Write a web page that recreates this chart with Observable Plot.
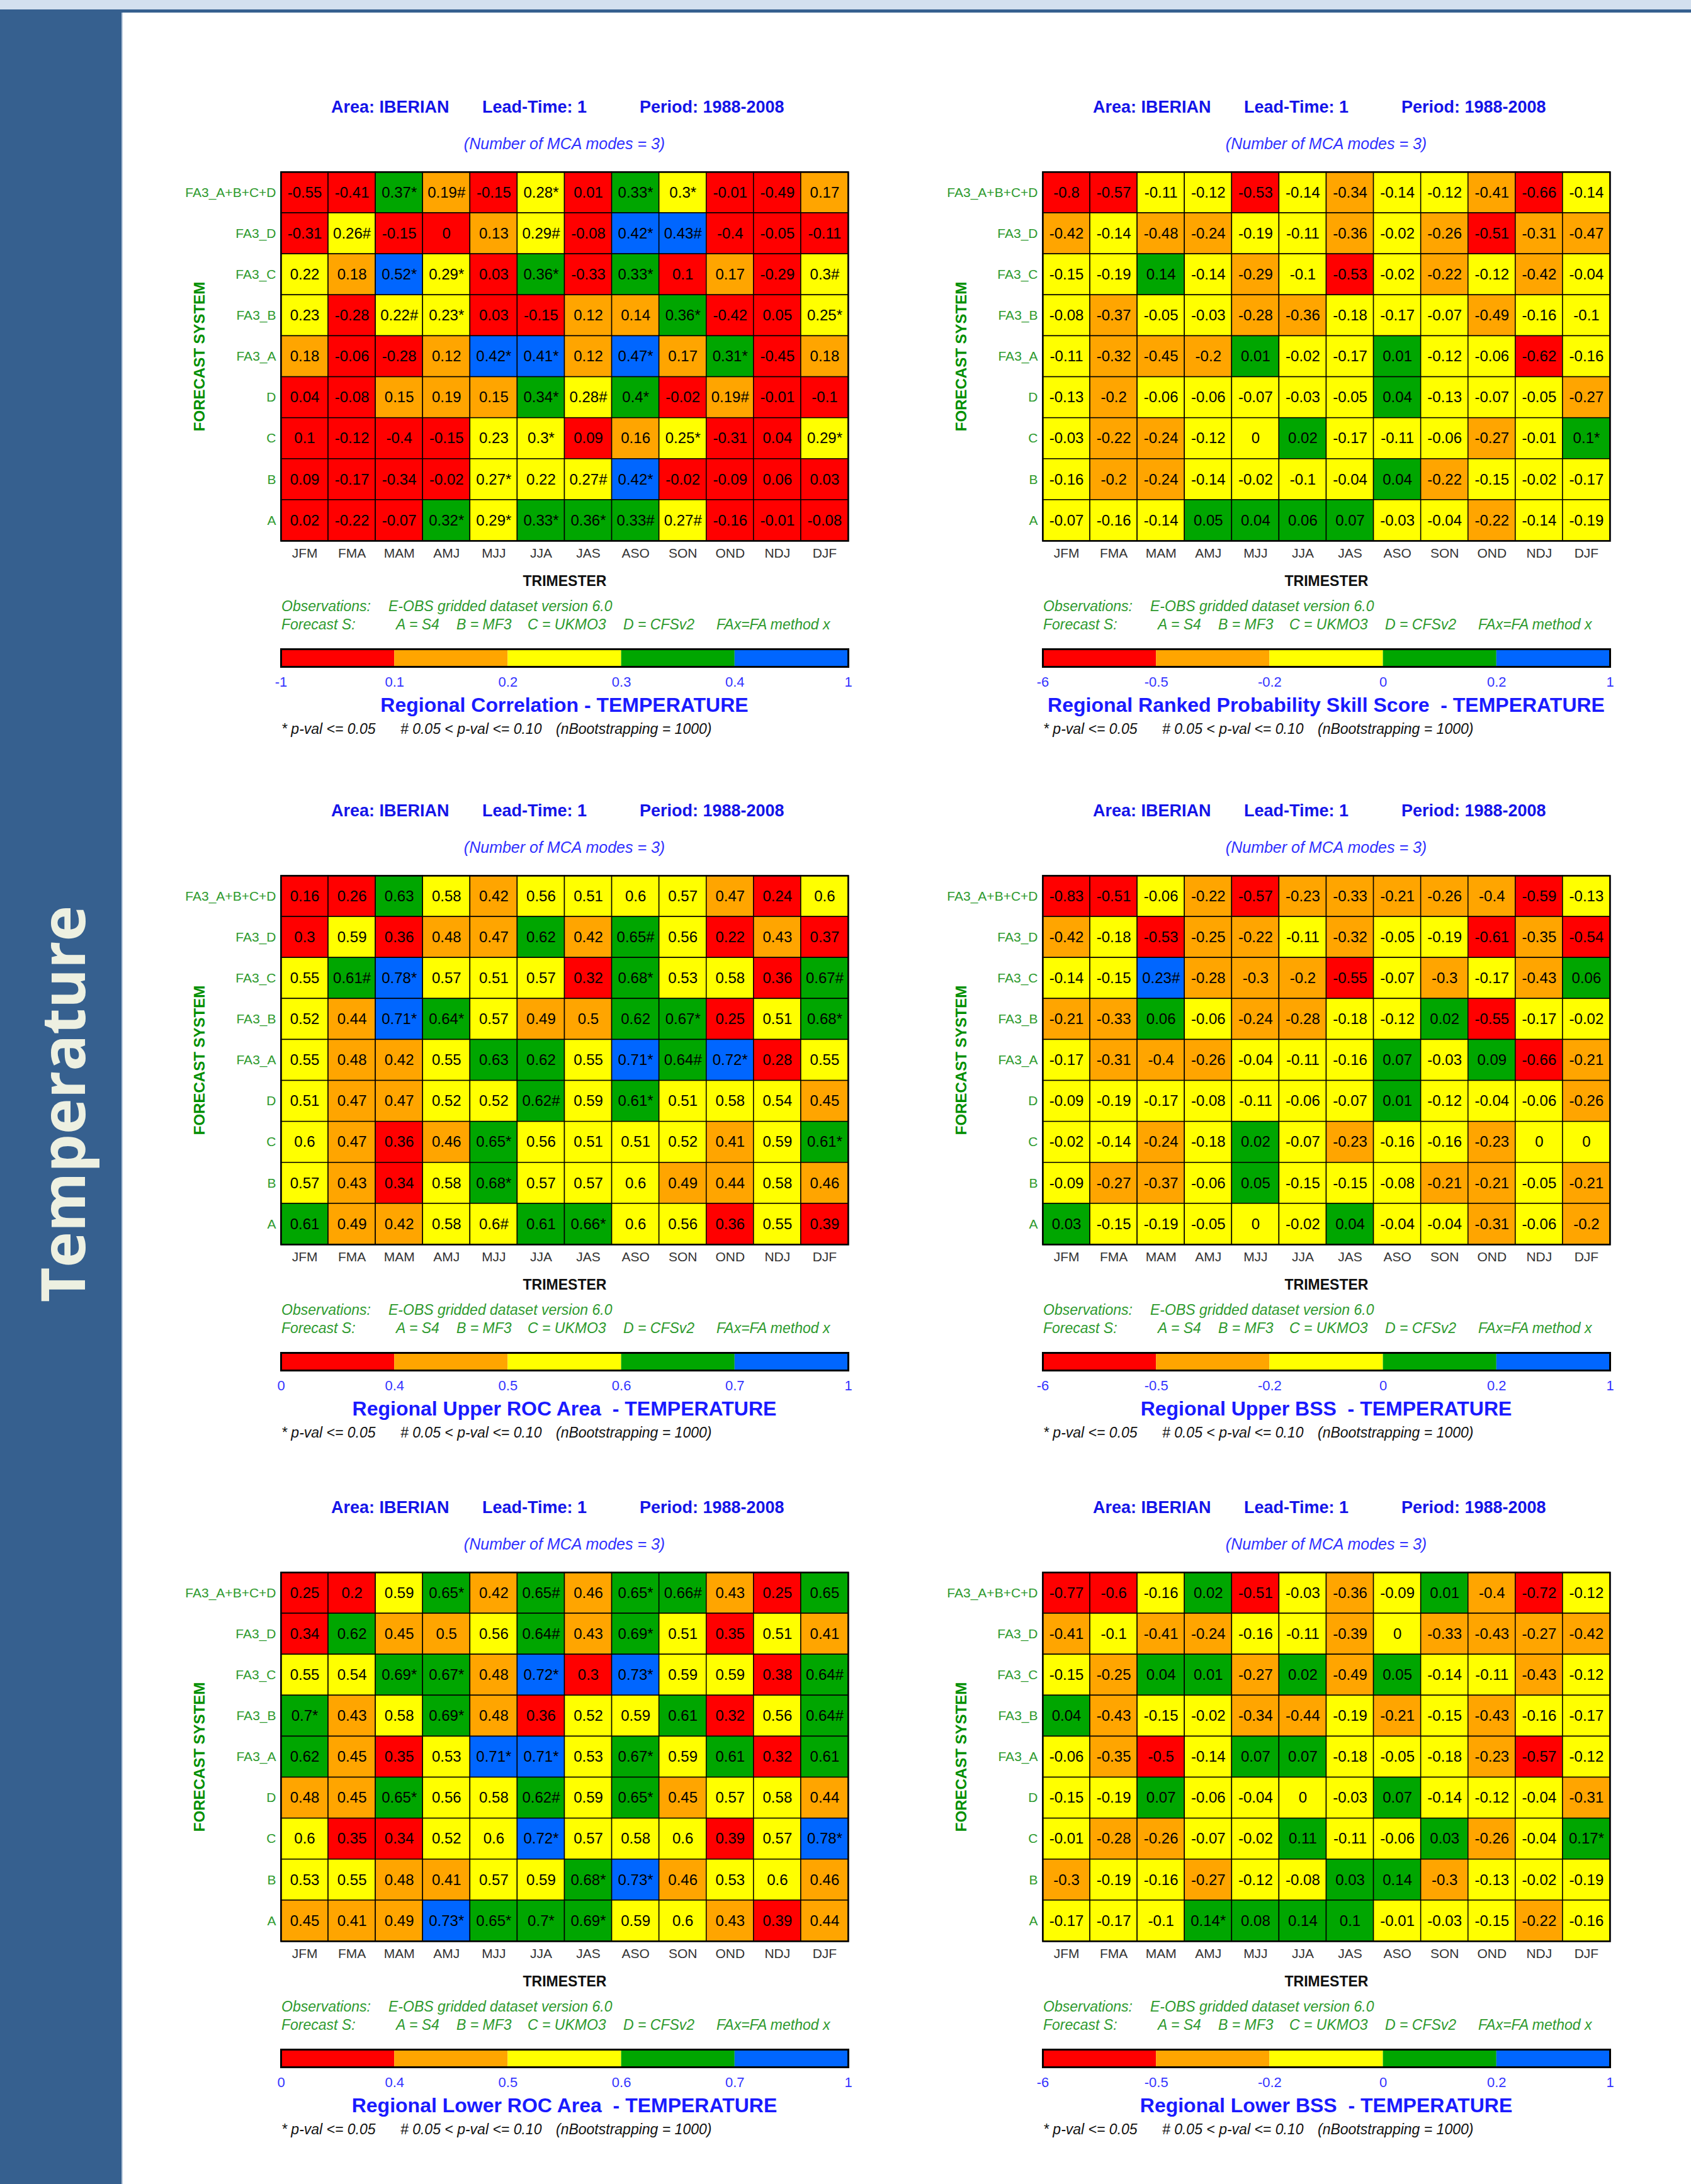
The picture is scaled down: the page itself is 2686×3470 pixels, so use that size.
<!DOCTYPE html>
<html><head><meta charset="utf-8">
<script src="https://cdn.jsdelivr.net/npm/d3@7"></script>
<script src="https://cdn.jsdelivr.net/npm/@observablehq/plot@0.6"></script>
<style>
html,body{margin:0;padding:0;background:#fff;}
#page{position:relative;width:2686px;height:3470px;overflow:hidden;background:#fff;font-family:"Liberation Sans",Arial,sans-serif;}
.abs{position:absolute;white-space:pre;}
</style></head><body><div id="page"></div>
<script>
// ---------- data ----------
const months = ["JFM","FMA","MAM","AMJ","MJJ","JJA","JAS","ASO","SON","OND","NDJ","DJF"];
const systems = ["FA3_A+B+C+D","FA3_D","FA3_C","FA3_B","FA3_A","D","C","B","A"];
const colors = ["#ff0000","#ffa500","#ffff00","#00a600","#0066ff"];
const corrBreaks = [0.1,0.2,0.3,0.4];
const corrTicks = ["-1","0.1","0.2","0.3","0.4","1"];
const skillBreaks = [-0.5,-0.2,0,0.2];
const skillTicks = ["-6","-0.5","-0.2","0","0.2","1"];
const rocBreaks = [0.4,0.5,0.6,0.7];
const rocTicks = ["0","0.4","0.5","0.6","0.7","1"];

const correlation = [
  ["-0.55","-0.41","0.37*","0.19#","-0.15","0.28*","0.01","0.33*","0.3*","-0.01","-0.49","0.17"],
  ["-0.31","0.26#","-0.15","0","0.13","0.29#","-0.08","0.42*","0.43#","-0.4","-0.05","-0.11"],
  ["0.22","0.18","0.52*","0.29*","0.03","0.36*","-0.33","0.33*","0.1","0.17","-0.29","0.3#"],
  ["0.23","-0.28","0.22#","0.23*","0.03","-0.15","0.12","0.14","0.36*","-0.42","0.05","0.25*"],
  ["0.18","-0.06","-0.28","0.12","0.42*","0.41*","0.12","0.47*","0.17","0.31*","-0.45","0.18"],
  ["0.04","-0.08","0.15","0.19","0.15","0.34*","0.28#","0.4*","-0.02","0.19#","-0.01","-0.1"],
  ["0.1","-0.12","-0.4","-0.15","0.23","0.3*","0.09","0.16","0.25*","-0.31","0.04","0.29*"],
  ["0.09","-0.17","-0.34","-0.02","0.27*","0.22","0.27#","0.42*","-0.02","-0.09","0.06","0.03"],
  ["0.02","-0.22","-0.07","0.32*","0.29*","0.33*","0.36*","0.33#","0.27#","-0.16","-0.01","-0.08"]
];
const rpss = [
  ["-0.8","-0.57","-0.11","-0.12","-0.53","-0.14","-0.34","-0.14","-0.12","-0.41","-0.66","-0.14"],
  ["-0.42","-0.14","-0.48","-0.24","-0.19","-0.11","-0.36","-0.02","-0.26","-0.51","-0.31","-0.47"],
  ["-0.15","-0.19","0.14","-0.14","-0.29","-0.1","-0.53","-0.02","-0.22","-0.12","-0.42","-0.04"],
  ["-0.08","-0.37","-0.05","-0.03","-0.28","-0.36","-0.18","-0.17","-0.07","-0.49","-0.16","-0.1"],
  ["-0.11","-0.32","-0.45","-0.2","0.01","-0.02","-0.17","0.01","-0.12","-0.06","-0.62","-0.16"],
  ["-0.13","-0.2","-0.06","-0.06","-0.07","-0.03","-0.05","0.04","-0.13","-0.07","-0.05","-0.27"],
  ["-0.03","-0.22","-0.24","-0.12","0","0.02","-0.17","-0.11","-0.06","-0.27","-0.01","0.1*"],
  ["-0.16","-0.2","-0.24","-0.14","-0.02","-0.1","-0.04","0.04","-0.22","-0.15","-0.02","-0.17"],
  ["-0.07","-0.16","-0.14","0.05","0.04","0.06","0.07","-0.03","-0.04","-0.22","-0.14","-0.19"]
];
const upperRoc = [
  ["0.16","0.26","0.63","0.58","0.42","0.56","0.51","0.6","0.57","0.47","0.24","0.6"],
  ["0.3","0.59","0.36","0.48","0.47","0.62","0.42","0.65#","0.56","0.22","0.43","0.37"],
  ["0.55","0.61#","0.78*","0.57","0.51","0.57","0.32","0.68*","0.53","0.58","0.36","0.67#"],
  ["0.52","0.44","0.71*","0.64*","0.57","0.49","0.5","0.62","0.67*","0.25","0.51","0.68*"],
  ["0.55","0.48","0.42","0.55","0.63","0.62","0.55","0.71*","0.64#","0.72*","0.28","0.55"],
  ["0.51","0.47","0.47","0.52","0.52","0.62#","0.59","0.61*","0.51","0.58","0.54","0.45"],
  ["0.6","0.47","0.36","0.46","0.65*","0.56","0.51","0.51","0.52","0.41","0.59","0.61*"],
  ["0.57","0.43","0.34","0.58","0.68*","0.57","0.57","0.6","0.49","0.44","0.58","0.46"],
  ["0.61","0.49","0.42","0.58","0.6#","0.61","0.66*","0.6","0.56","0.36","0.55","0.39"]
];
const upperBss = [
  ["-0.83","-0.51","-0.06","-0.22","-0.57","-0.23","-0.33","-0.21","-0.26","-0.4","-0.59","-0.13"],
  ["-0.42","-0.18","-0.53","-0.25","-0.22","-0.11","-0.32","-0.05","-0.19","-0.61","-0.35","-0.54"],
  ["-0.14","-0.15","0.23#","-0.28","-0.3","-0.2","-0.55","-0.07","-0.3","-0.17","-0.43","0.06"],
  ["-0.21","-0.33","0.06","-0.06","-0.24","-0.28","-0.18","-0.12","0.02","-0.55","-0.17","-0.02"],
  ["-0.17","-0.31","-0.4","-0.26","-0.04","-0.11","-0.16","0.07","-0.03","0.09","-0.66","-0.21"],
  ["-0.09","-0.19","-0.17","-0.08","-0.11","-0.06","-0.07","0.01","-0.12","-0.04","-0.06","-0.26"],
  ["-0.02","-0.14","-0.24","-0.18","0.02","-0.07","-0.23","-0.16","-0.16","-0.23","0","0"],
  ["-0.09","-0.27","-0.37","-0.06","0.05","-0.15","-0.15","-0.08","-0.21","-0.21","-0.05","-0.21"],
  ["0.03","-0.15","-0.19","-0.05","0","-0.02","0.04","-0.04","-0.04","-0.31","-0.06","-0.2"]
];
const lowerRoc = [
  ["0.25","0.2","0.59","0.65*","0.42","0.65#","0.46","0.65*","0.66#","0.43","0.25","0.65"],
  ["0.34","0.62","0.45","0.5","0.56","0.64#","0.43","0.69*","0.51","0.35","0.51","0.41"],
  ["0.55","0.54","0.69*","0.67*","0.48","0.72*","0.3","0.73*","0.59","0.59","0.38","0.64#"],
  ["0.7*","0.43","0.58","0.69*","0.48","0.36","0.52","0.59","0.61","0.32","0.56","0.64#"],
  ["0.62","0.45","0.35","0.53","0.71*","0.71*","0.53","0.67*","0.59","0.61","0.32","0.61"],
  ["0.48","0.45","0.65*","0.56","0.58","0.62#","0.59","0.65*","0.45","0.57","0.58","0.44"],
  ["0.6","0.35","0.34","0.52","0.6","0.72*","0.57","0.58","0.6","0.39","0.57","0.78*"],
  ["0.53","0.55","0.48","0.41","0.57","0.59","0.68*","0.73*","0.46","0.53","0.6","0.46"],
  ["0.45","0.41","0.49","0.73*","0.65*","0.7*","0.69*","0.59","0.6","0.43","0.39","0.44"]
];
const lowerBss = [
  ["-0.77","-0.6","-0.16","0.02","-0.51","-0.03","-0.36","-0.09","0.01","-0.4","-0.72","-0.12"],
  ["-0.41","-0.1","-0.41","-0.24","-0.16","-0.11","-0.39","0","-0.33","-0.43","-0.27","-0.42"],
  ["-0.15","-0.25","0.04","0.01","-0.27","0.02","-0.49","0.05","-0.14","-0.11","-0.43","-0.12"],
  ["0.04","-0.43","-0.15","-0.02","-0.34","-0.44","-0.19","-0.21","-0.15","-0.43","-0.16","-0.17"],
  ["-0.06","-0.35","-0.5","-0.14","0.07","0.07","-0.18","-0.05","-0.18","-0.23","-0.57","-0.12"],
  ["-0.15","-0.19","0.07","-0.06","-0.04","0","-0.03","0.07","-0.14","-0.12","-0.04","-0.31"],
  ["-0.01","-0.28","-0.26","-0.07","-0.02","0.11","-0.11","-0.06","0.03","-0.26","-0.04","0.17*"],
  ["-0.3","-0.19","-0.16","-0.27","-0.12","-0.08","0.03","0.14","-0.3","-0.13","-0.02","-0.19"],
  ["-0.17","-0.17","-0.1","0.14*","0.08","0.14","0.1","-0.01","-0.03","-0.15","-0.22","-0.16"]
];
const titles = [
  "Regional Correlation - TEMPERATURE",
  "Regional Ranked Probability Skill Score  - TEMPERATURE",
  "Regional Upper ROC Area  - TEMPERATURE",
  "Regional Upper BSS  - TEMPERATURE",
  "Regional Lower ROC Area  - TEMPERATURE",
  "Regional Lower BSS  - TEMPERATURE"
];

// ---------- layout ----------
const page = document.getElementById("page");
const FONT = '"Liberation Sans", Arial, sans-serif';
function box(x, y, w, h, bg) {
  const d = document.createElement("div");
  d.className = "abs";
  Object.assign(d.style, {left: x + "px", top: y + "px", width: w + "px", height: h + "px", background: bg});
  page.appendChild(d);
}
function txt(s, x, y, o) {
  const d = document.createElement("div");
  d.className = "abs";
  d.textContent = s;
  const fs = o.size;
  Object.assign(d.style, {
    top: (y - fs / 2) + "px", lineHeight: fs + "px", fontSize: fs + "px",
    fontWeight: o.bold ? "bold" : "normal", fontStyle: o.italic ? "italic" : "normal",
    color: o.color, fontFamily: FONT
  });
  if (o.center) { d.style.left = (x - 1000) + "px"; d.style.width = "2000px"; d.style.textAlign = "center"; }
  else d.style.left = x + "px";
  page.appendChild(d);
}
function place(el, x, y) {
  const w = document.createElement("div");
  w.className = "abs";
  w.style.left = x + "px"; w.style.top = y + "px";
  w.appendChild(el);
  page.appendChild(w);
}

// background page furniture
box(0, 0, 2686, 15, "#d3e0ef");
box(0, 15, 193, 3455, "#36608f");
box(193, 15, 2493, 5, "#36608f");
box(193, 20, 2, 3450, "#b9c9dc");
{
  const d = document.createElement("div");
  d.className = "abs";
  d.textContent = "Temperature";
  Object.assign(d.style, {left: (98 - 400) + "px", top: (1754 - 60) + "px", width: "800px", height: "120px",
    lineHeight: "120px", textAlign: "center", fontFamily: '"Open Sans", sans-serif', fontWeight: "bold",
    fontSize: "96px", color: "#edf0e1", transform: "rotate(-90deg)"});
  page.appendChild(d);
}

const GW = 901, GH = 586;
const ML = 200, MR = 12, MT = 10, MB = 92;
const BLUE = "#1414e8", GREEN = "#2e9a2e";

function panel(gx, gy, values, breaks, ticks, title) {
  const data = [];
  values.forEach((row, r) => row.forEach((lab, c) =>
    data.push({sys: systems[r], mon: months[c], label: lab, v: parseFloat(lab)})));

  const chart = Plot.plot({
    width: GW + ML + MR, height: GH + MT + MB,
    marginLeft: ML, marginRight: MR, marginTop: MT, marginBottom: MB,
    style: {fontFamily: FONT, background: "transparent", overflow: "visible"},
    x: {domain: months, padding: 0, round: false, axis: null, label: null},
    y: {domain: systems, padding: 0, round: false, axis: null, label: null},
    color: {type: "threshold", domain: breaks.map(b => -b).reverse(), range: colors.slice().reverse()},
    marks: [
      Plot.cell(data, {x: "mon", y: "sys", fill: d => -d.v, stroke: "#000", strokeWidth: 1.5, inset: 0}),
      Plot.text(data, {x: "mon", y: "sys", text: "label", fill: "#000", fontSize: 24}),
      Plot.frame({stroke: "#000", strokeWidth: 2.5}),
      Plot.axisX({tickSize: 0, tickPadding: 12, fontSize: 21, color: "#333", fill: "#333", label: null}),
      Plot.axisY({tickSize: 0, tickPadding: 8, fontSize: 21, color: GREEN, fill: GREEN, label: null}),
      Plot.text(["TRIMESTER"], {frameAnchor: "bottom", dy: 64, text: d => d, lineAnchor: "middle",
        fontWeight: "bold", fontSize: 23, fill: "#111"}),
      Plot.text(["FORECAST SYSTEM"], {frameAnchor: "left", dx: -129, text: d => d, rotate: -90,
        textAnchor: "middle", lineAnchor: "middle", fontWeight: "bold", fontSize: 24, fill: "#008f00"})
    ]
  });
  place(chart, gx - ML, gy - MT);

  // colour bar
  const bins = d3.range(5).map(i => ({i, j: i + 1}));
  const bar = Plot.plot({
    width: GW + 60, height: 28 + 4 + 44,
    marginLeft: 30, marginRight: 30, marginTop: 4, marginBottom: 44,
    style: {fontFamily: FONT, background: "transparent", overflow: "visible"},
    x: {domain: [0, 5], axis: null},
    color: {type: "ordinal", domain: d3.range(5), range: colors},
    marks: [
      Plot.barX(bins, {x1: "i", x2: "j", fill: "i"}),
      Plot.frame({stroke: "#000", strokeWidth: 3}),
      Plot.axisX(d3.range(6), {tickSize: 0, tickPadding: 16, tickFormat: i => ticks[i], fontSize: 22,
        color: "#3333ff", fill: "#3333ff", label: null})
    ]
  });
  place(bar, gx - 30, gy + 758 - 4);

  // header texts
  const hs = {size: 27, bold: true, color: BLUE};
  txt("Area: IBERIAN", gx + 80, gy - 103, hs);
  txt("Lead-Time: 1", gx + 320, gy - 103, hs);
  txt("Period: 1988-2008", gx + 570, gy - 103, hs);
  txt("(Number of MCA modes = 3)", gx + GW / 2, gy - 45, {size: 25, italic: true, color: "#3030ff", center: true});

  // source notes
  const gs = {size: 23, italic: true, color: GREEN};
  txt("Observations:", gx + 1, gy + 690, gs);
  txt("E-OBS gridded dataset version 6.0", gx + 171, gy + 690, gs);
  txt("Forecast S:", gx + 1, gy + 719, gs);
  txt("A = S4", gx + 183, gy + 719, gs);
  txt("B = MF3", gx + 279, gy + 719, gs);
  txt("C = UKMO3", gx + 392, gy + 719, gs);
  txt("D = CFSv2", gx + 544, gy + 719, gs);
  txt("FAx=FA method x", gx + 692, gy + 719, gs);

  // title & footnote
  txt(title, gx + GW / 2, gy + 847, {size: 32, bold: true, color: "#1a1aff", center: true});
  const fs = {size: 23, italic: true, color: "#111"};
  txt("* p-val <= 0.05", gx + 1, gy + 885, fs);
  txt("# 0.05 < p-val <= 0.10", gx + 190, gy + 885, fs);
  txt("(nBootstrapping = 1000)", gx + 437, gy + 885, fs);
}

const colX = [446, 1656];
const rowY = [273, 1391, 2498];
panel(colX[0], rowY[0], correlation, corrBreaks, corrTicks, titles[0]);
panel(colX[1], rowY[0], rpss, skillBreaks, skillTicks, titles[1]);
panel(colX[0], rowY[1], upperRoc, rocBreaks, rocTicks, titles[2]);
panel(colX[1], rowY[1], upperBss, skillBreaks, skillTicks, titles[3]);
panel(colX[0], rowY[2], lowerRoc, rocBreaks, rocTicks, titles[4]);
panel(colX[1], rowY[2], lowerBss, skillBreaks, skillTicks, titles[5]);
</script>
</body></html>
